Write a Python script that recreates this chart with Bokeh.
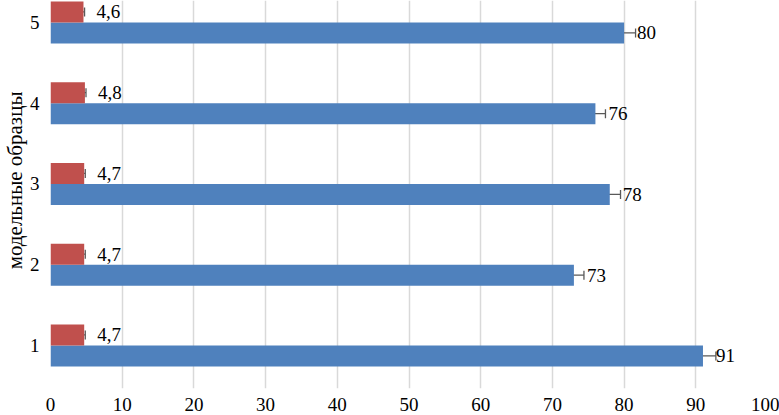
from bokeh.plotting import figure
from bokeh.models import Range1d, ColumnDataSource, Whisker, FixedTicker, TeeHead, LabelSet, Title
from bokeh.embed import file_html
from bokeh.resources import INLINE

categories = [1, 2, 3, 4, 5]
blue_values = [91, 73, 78, 76, 80]
blue_errors = [1.8, 1.4, 1.5, 1.4, 1.6]
red_values = [4.7, 4.7, 4.7, 4.8, 4.6]
red_errors = [0.15, 0.15, 0.15, 0.15, 0.15]
red_labels = ["4,7", "4,7", "4,7", "4,8", "4,6"]
blue_labels = ["91", "73", "78", "76", "80"]
x_ticks = [0, 10, 20, 30, 40, 50, 60, 70, 80, 90, 100]
y_title = "модельные образцы"

FONT = "Liberation Serif"
BLUE = "#4f81bd"
RED = "#c0504d"
Y0, Y1 = 0.467, 5.272

p = figure(frame_width=717, frame_height=388, output_backend="svg", toolbar_location=None,
           x_range=Range1d(0, 100), y_range=Range1d(Y0, Y1),
           min_border_left=50, min_border_right=12, min_border_top=0, min_border_bottom=27)
p.outline_line_color = None
p.background_fill_color = "white"

off = 0.13
h = 0.26
ys_red = [c + off for c in categories]
ys_blue = [c - off for c in categories]

src_b = ColumnDataSource(dict(y=ys_blue, v=blue_values, lo=[v - e for v, e in zip(blue_values, blue_errors)],
                              hi=[v + e for v, e in zip(blue_values, blue_errors)], lab=blue_labels))
src_r = ColumnDataSource(dict(y=ys_red, v=red_values, lo=[v - e for v, e in zip(red_values, red_errors)],
                              hi=[v + e for v, e in zip(red_values, red_errors)], lab=red_labels))

p.hbar(y="y", left=0, right="v", height=h, source=src_b, fill_color=BLUE, line_color=None)
p.hbar(y="y", left=0, right="v", height=h, source=src_r, fill_color=RED, line_color=None)

for src in (src_b, src_r):
    w = Whisker(source=src, base="y", lower="lo", upper="hi", dimension="width",
                line_color="#595959", line_width=1.3,
                lower_head=TeeHead(size=9, line_color="#595959", line_width=1.3),
                upper_head=TeeHead(size=9, line_color="#595959", line_width=1.3))
    p.add_layout(w)
    p.add_layout(LabelSet(x="v", y="y", text="lab", source=src, x_offset=13, text_align="left",
                          text_baseline="middle", text_font=FONT, text_font_size="19px",
                          text_color="black"))

p.xaxis.ticker = FixedTicker(ticks=x_ticks)
p.yaxis.ticker = FixedTicker(ticks=categories)
for ax in (p.xaxis, p.yaxis):
    ax.axis_line_color = None
    ax.major_tick_line_color = None
    ax.minor_tick_line_color = None
    ax.major_tick_out = 0
    ax.major_tick_in = 0
    ax.minor_tick_out = 0
    ax.minor_tick_in = 0
    ax.major_label_text_font = FONT
    ax.major_label_text_font_size = "19px"
    ax.major_label_text_color = "black"
p.xaxis.major_label_standoff = 9
p.yaxis.major_label_standoff = 11

p.add_layout(Title(text=y_title, align="right", offset=91, text_font=FONT,
                   text_font_size="21px", text_font_style="normal", text_color="black",
                   standoff=0), "left")

p.ygrid.grid_line_color = None
p.xgrid.grid_line_color = "#d9d9d9"
p.xgrid.grid_line_width = 1.5

open("out.html", "w").write(file_html(p, INLINE))
